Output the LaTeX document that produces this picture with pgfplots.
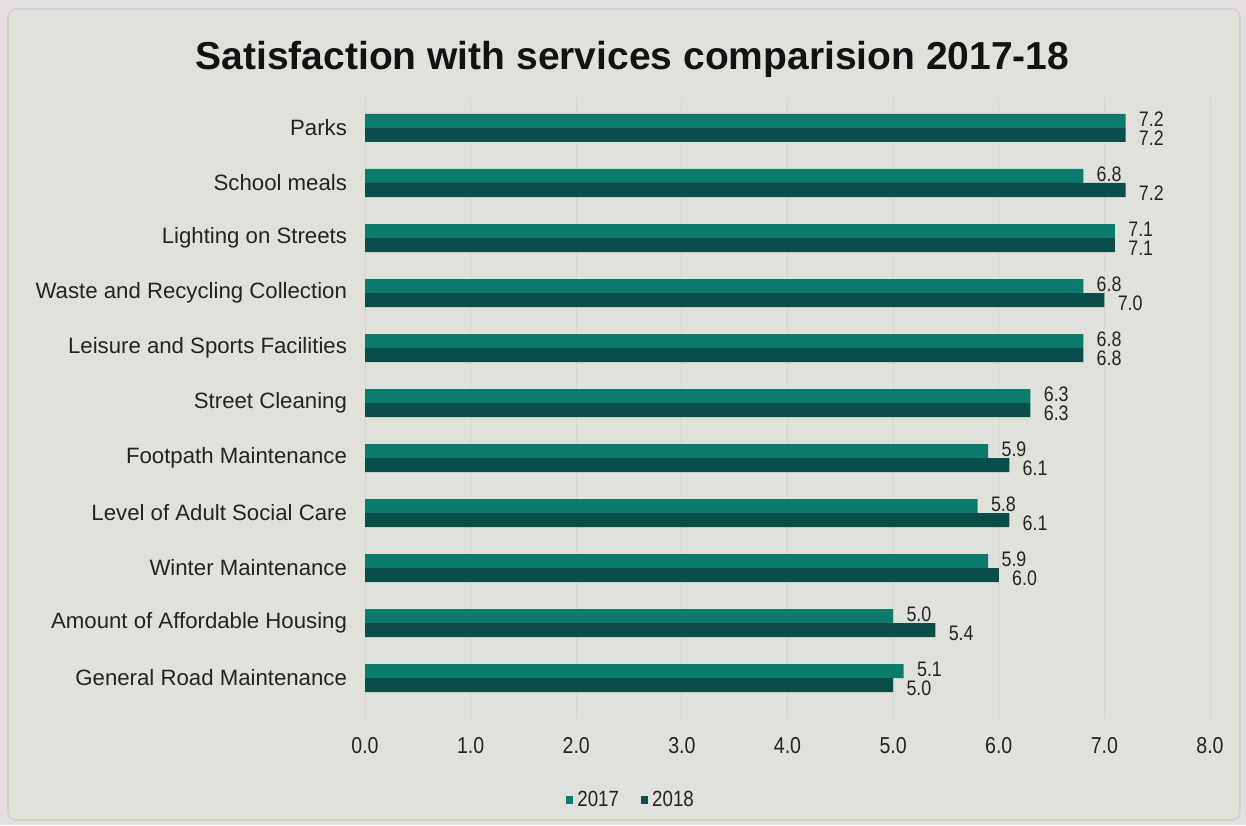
\documentclass[border=0pt]{standalone}
\usepackage{pgfplots}
\pgfplotsset{compat=1.18}
\usepackage{pgfplotstable}
\usepackage{fontspec}
\setmainfont{Liberation Sans}
\newfontfamily\numfont[FakeStretch=0.85]{Liberation Sans}

\definecolor{outerbg}{RGB}{228,222,225}
\definecolor{innerbg}{RGB}{225,225,219}
\definecolor{framecol}{RGB}{205,210,205}
\definecolor{gridcol}{RGB}{212,211,205}
\definecolor{c2017}{RGB}{13,123,107}
\definecolor{c2018}{RGB}{10,78,74}
\definecolor{txt}{RGB}{35,35,35}

% values as labelled on the chart; pos 10 = top row
\pgfplotstableread{
pos y2017 y2018
10 7.2 7.2
9  6.8 7.2
8  7.1 7.1
7  6.8 7.0
6  6.8 6.8
5  6.3 6.3
4  5.9 6.1
3  5.8 6.1
2  5.9 6.0
1  5.0 5.4
0  5.1 5.0
}\services

\begin{document}
\begin{tikzpicture}
  \fill[outerbg] (0,0) rectangle (623pt,412.5pt);
  \filldraw[fill=innerbg, draw=framecol, line width=0.8pt, rounded corners=4pt]
    (4pt,2.5pt) rectangle (620pt,408pt);

  \node[anchor=base, text=black!93] at (316.25pt,377.5pt)
    {\fontsize{19.5}{23}\selectfont\bfseries Satisfaction with services comparision 2017-18};

  \begin{axis}[
      at={(182.5pt,52.875pt)}, anchor=south west,
      scale only axis,
      width=422.5pt, height=310.75pt,
      xbar, bar width=7pt,
      xmin=0, xmax=8, ymin=-0.75, ymax=10.55,
      xtick={0,1,...,8},
      ytick={0,1,...,10},
      yticklabels={General Road Maintenance, Amount of Affordable Housing,
        Winter Maintenance, Level of Adult Social Care, Footpath Maintenance,
        Street Cleaning, Leisure and Sports Facilities, Waste and Recycling Collection,
        Lighting on Streets, School meals, Parks},
      axis line style={draw=none},
      major tick length=0pt,
      xmajorgrids, grid style={gridcol, line width=0.5pt},
      xticklabel style={font=\numfont\fontsize{11.5}{13}\selectfont, text=txt, yshift=-5.5pt},
      yticklabel style={font=\fontsize{11.1}{13}\selectfont, text=txt, xshift=-5.5pt},
      /pgf/number format/assume math mode=true,
      xticklabel={\pgfmathprintnumber[fixed,fixed zerofill,precision=1]{\tick}},
      point meta=x,
      nodes near coords={\pgfmathprintnumber[fixed,fixed zerofill,precision=1]{\pgfplotspointmeta}},
      nodes near coords style={font=\numfont\fontsize{10.5}{12}\selectfont, text=txt,
        anchor=west, xshift=5.5pt, inner sep=1pt},
      legend columns=2,
      legend style={at={(0.316,-0.13)}, anchor=center, draw=none, fill=none,
        font=\numfont\fontsize{11}{13}\selectfont, text=txt,
        /tikz/every even column/.style={column sep=9pt}},
      legend image code/.code={\fill[#1] (0pt,-1.9pt) rectangle (3.6pt,1.9pt);},
    ]
    \addplot[fill=c2017, draw=none, bar shift=3.5pt,
      nodes near coords style={yshift=1pt}]
      table[x=y2017, y=pos] {\services};
    \addplot[fill=c2018, draw=none, bar shift=-3.5pt,
      nodes near coords style={yshift=-1.5pt}]
      table[x=y2018, y=pos] {\services};
    \legend{2017, 2018}
  \end{axis}

  \pgfresetboundingbox
  \useasboundingbox (0,0) rectangle (623pt,412.5pt);
\end{tikzpicture}
\end{document}
